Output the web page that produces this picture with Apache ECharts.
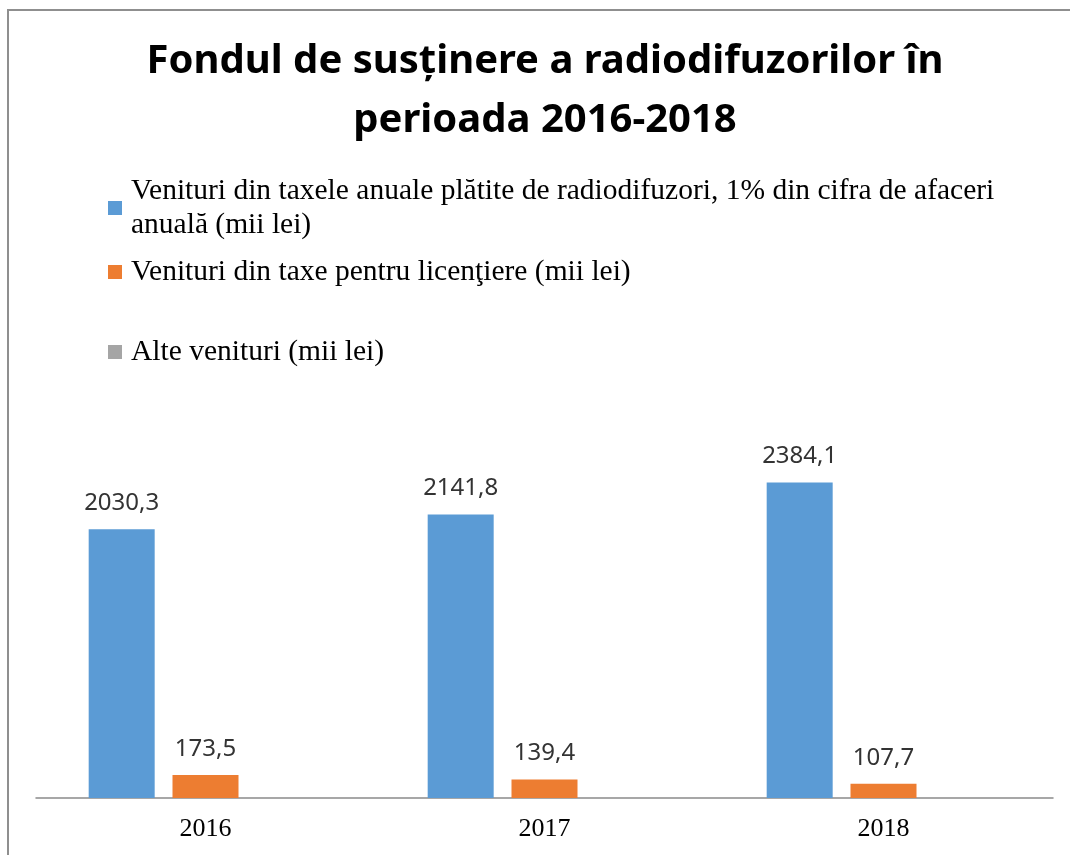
<!DOCTYPE html>
<html>
<head>
<meta charset="utf-8">
<script src="https://cdn.jsdelivr.net/npm/echarts@6/dist/echarts.min.js"></script>
<style>
  html, body { margin: 0; padding: 0; background: #fff; }
  #wrap { width: 1070px; height: 855px; }
</style>
</head>
<body>
<div id="wrap"></div>
<script>
// ani
var years = ['2016', '2017', '2018'];
// denumirile seriilor (legenda)
var seriesNames = [
    'Venituri din taxele anuale plătite de radiodifuzori, 1% din cifra de afaceri anuală (mii lei)',
    'Venituri din taxe pentru licenţiere (mii lei)',
    'Alte venituri (mii lei)'
];
// valori, mii lei
var taxeAnuale = [2030.3, 2141.8, 2384.1];
var taxeLicentiere = [173.5, 139.4, 107.7];
var alteVenituri = [null, null, null];   // fara date in grafic
// culori Excel
var colors = ['#5B9BD5', '#ED7D31', '#A5A5A5'];

var myChart = echarts.init(document.getElementById('wrap'));

// eticheta cu virgula zecimala
function fmtVal(p) {
    return p.value == null ? '' : p.value.toFixed(1).replace('.', ',');
}

var labelStyle = {
    show: true,
    position: 'top',
    distance: 14,
    fontFamily: 'Noto Sans',
    fontSize: 24,
    color: '#333',
    formatter: fmtVal
};

var legendText = {
    fontFamily: 'Liberation Serif',
    fontSize: 29.5,
    color: '#000',
    lineHeight: 34
};

function oneLegend(name, top, extra) {
    return {
        data: [name],
        orient: 'vertical',
        left: 108,
        top: top,
        padding: 0,
        itemWidth: 14,
        itemHeight: 14,
        icon: 'rect',
        selectedMode: false,
        textStyle: Object.assign({}, legendText, extra || {}),
        formatter: function (n) {
            return n.replace('afaceri anuală', 'afaceri\nanuală');
        }
    };
}

var option = {
    color: colors,
    animation: false,
    title: {
        text: 'Fondul de susținere a radiodifuzorilor în\nperioada 2016-2018',
        left: 545,
        top: 32,
        padding: 0,
        textAlign: 'center',
        textStyle: {
            fontFamily: 'Noto Sans',
            fontWeight: 'bold',
            fontSize: 40,
            lineHeight: 59,
            color: '#000'
        }
    },
    legend: [
        // prima intrare pe doua randuri, patratul aliniat cu primul rand
        oneLegend(seriesNames[0], 191.5 - 7 - 27.5, {padding: [34, 0, 0, 4]}),
        oneLegend(seriesNames[1], 272 - 17, {padding: [0, 0, 0, 4]}),
        oneLegend(seriesNames[2], 352 - 17, {padding: [0, 0, 0, 4]})
    ],
    graphic: [{
        type: 'rect',
        shape: {x: 8, y: 10, width: 1200, height: 1000},
        style: {fill: 'none', stroke: '#8f8f8f', lineWidth: 2},
        silent: true
    }],
    grid: {left: 36, right: 17, top: 401, bottom: 57},
    xAxis: {
        type: 'category',
        data: years,
        axisTick: {show: false},
        axisLine: {lineStyle: {color: '#8a8a8a', width: 1.5}},
        axisLabel: {
            fontFamily: 'Liberation Serif',
            fontSize: 26,
            color: '#000',
            margin: 18
        }
    },
    yAxis: {
        type: 'value',
        min: 0,
        max: 3000,
        show: false,
        splitLine: {show: false}
    },
    series: [
        {name: seriesNames[0], type: 'bar', data: taxeAnuale, barWidth: 66, barGap: '27%', label: labelStyle},
        {name: seriesNames[1], type: 'bar', data: taxeLicentiere, barWidth: 66, barGap: '27%', label: labelStyle},
        {name: seriesNames[2], type: 'bar', data: alteVenituri, barWidth: 66, barGap: '27%', label: labelStyle}
    ]
};
myChart.setOption(option);
</script>
</body>
</html>
